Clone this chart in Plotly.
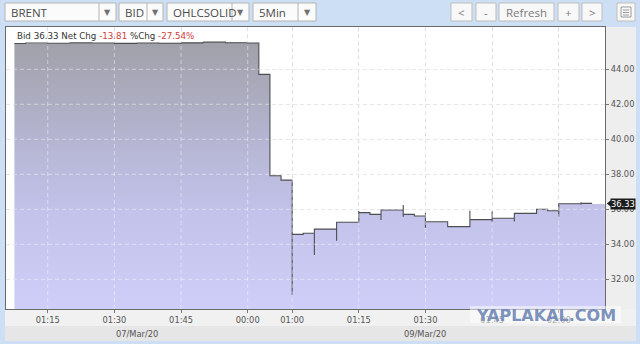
import plotly.graph_objects as go

# ---------------- data ----------------
bar_day = ["07/Mar/20"] * 11 + ["09/Mar/20"] * 15
bar_clock = ["01:10", "01:15", "01:20", "01:25", "01:30", "01:35", "01:40", "01:45", "01:50", "01:55", "00:00",
             "00:55", "01:00", "01:05", "01:10", "01:15", "01:20", "01:25", "01:30", "01:35", "01:40", "01:45",
             "01:50", "01:55", "02:00", "02:05"]
opens = [45.47, 45.50, 45.49, 45.51, 45.50, 45.48, 45.50, 45.49, 45.51, 45.55, 45.52,
         43.71, 37.67, 34.63, 34.87, 35.26, 35.71, 35.96, 35.62, 35.29, 35.01, 35.41,
         35.49, 35.77, 35.92, 36.32]
highs = [45.52, 45.52, 45.53, 45.53, 45.53, 45.52, 45.53, 45.52, 45.57, 45.56, 45.53,
         43.71, 37.67, 34.87, 35.26, 35.90, 35.96, 36.25, 35.79, 35.29, 35.92, 35.87,
         35.77, 36.00, 36.36, 36.40]
lows = [45.45, 45.46, 45.46, 45.48, 45.46, 45.45, 45.47, 45.45, 45.49, 45.50, 45.48,
        37.92, 31.10, 33.39, 34.21, 35.26, 35.39, 35.58, 34.95, 35.01, 35.01, 35.26,
        35.30, 35.77, 35.58, 36.28]
closes = [45.50, 45.49, 45.51, 45.50, 45.48, 45.50, 45.49, 45.51, 45.55, 45.52, 45.50,
          37.92, 34.57, 34.87, 35.26, 35.81, 35.96, 35.71, 35.29, 35.01, 35.41, 35.49,
          35.77, 36.00, 36.32, 36.34]
tick_bars = [("07/Mar/20", "01:15"), ("07/Mar/20", "01:30"), ("07/Mar/20", "01:45"), ("07/Mar/20", "00:00"),
             ("09/Mar/20", "01:00"), ("09/Mar/20", "01:15"), ("09/Mar/20", "01:30"), ("09/Mar/20", "01:45"),
             ("09/Mar/20", "02:00")]
y_ticks = [32, 34, 36, 38, 40, 42, 44]
bid_value = 36.33
net_chg = -13.81
pct_chg = -27.54
symbol, side, style, interval = "BRENT", "BID", "OHLCSOLID", "5Min"
buttons = ["<", "-", "Refresh", "+", ">"]

# ---------------- geometry ----------------
W, H = 640, 344
ML, MR, MT, MB = 6, 35, 27, 35
PW, PH = W - ML - MR, H - MT - MB
X_RANGE = [-0.878, 26.08]
Y_RANGE = [30.303, 46.417]


def px(x):
    return (x - ML) / PW


def py(y):
    return (H - MB - y) / PH


keys = list(zip(bar_day, bar_clock))
tick_vals = [keys.index(k) for k in tick_bars]
tick_text = [k[1] for k in tick_bars]

# step outline of the OHLC-solid style
xs_fill, ys_fill, xs_line, ys_line = [], [], [], []
for i, (o, h, l, c) in enumerate(zip(opens, highs, lows, closes)):
    xs_fill += [i - 0.5, i, i, i + 0.5]
    ys_fill += [o, o, c, c]
    xs_line += [i - 0.5, i, i, i, i, i + 0.5]
    ys_line += [o, o, l, h, c, c]
xs_fill.append(X_RANGE[1])
ys_fill.append(closes[-1] - 0.04)

fig = go.Figure()
fig.add_trace(go.Scatter(
    x=xs_fill, y=ys_fill, mode="lines", line=dict(width=0), fill="tozeroy",
    fillgradient=dict(type="vertical", start=Y_RANGE[0], stop=Y_RANGE[1],
                      colorscale=[[0, "#cecef8"], [0.35, "#c2c2ea"], [0.6, "#b5b5d2"],
                                  [0.85, "#a6a6b4"], [1, "#9e9ea4"]]),
    hoverinfo="skip"))
fig.add_trace(go.Scatter(x=xs_line, y=ys_line, mode="lines",
                         line=dict(color="#4e4e52", width=1.1), hoverinfo="skip"))

shapes = []
# grid overlay (lighter dashes visible over the fill)
for t in tick_vals:
    shapes.append(dict(type="line", xref="x", yref="paper", x0=t, x1=t, y0=0, y1=1, layer="above",
                       line=dict(color="rgba(255,255,255,0.45)", width=1, dash="4px,3px")))
for t in y_ticks:
    shapes.append(dict(type="line", xref="paper", yref="y", x0=0, x1=1, y0=t, y1=t, layer="above",
                       line=dict(color="rgba(255,255,255,0.45)", width=1, dash="4px,3px")))


# panels around the plot
def rect(x0, y0, x1, y1, fill, line=None, layer="below", lw=1):
    shapes.append(dict(type="rect", xref="paper", yref="paper", x0=px(x0), x1=px(x1), y0=py(y1), y1=py(y0),
                       fillcolor=fill, line=dict(color=line or fill, width=lw if line else 0), layer=layer))


rect(605, 27, 636, 309, "#eeeeee")
rect(5, 309, 636, 326, "#f1f1f1")
rect(5, 326, 636, 341, "#e6e6e6")

annotations = []
font_hdr = dict(family="Open Sans", size=11.5, color="#4a4a4a")

# dropdowns
dropdowns = [(symbol, 5, 99, 116), (side, 119, 147, 163), (style, 167, 232, 249), (interval, 253, 298, 316)]
for label, x0, xs, x1 in dropdowns:
    rect(x0, 3, x1, 21, "#fbfbfb", "#b4b4b4", layer="above")
    shapes.append(dict(type="line", xref="paper", yref="paper", x0=px(xs), x1=px(xs), y0=py(21), y1=py(3),
                       line=dict(color="#b4b4b4", width=1)))
    annotations.append(dict(x=px(x0 + 4), y=py(12.5), xref="paper", yref="paper", xanchor="left",
                            yanchor="middle", text=label, showarrow=False, font=font_hdr))
    annotations.append(dict(x=px((xs + x1) / 2), y=py(12.5), xref="paper", yref="paper", xanchor="center",
                            yanchor="middle", text="▼", showarrow=False,
                            font=dict(family="DejaVu Sans", size=8, color="#707070")))

# buttons
btn_pos = [(451, 472), (476, 496), (499, 554), (558, 579), (582, 602)]
for label, (x0, x1) in zip(buttons, btn_pos):
    rect(x0, 3, x1, 21, "#f8f8f8", "#bdbdbd", layer="above")
    annotations.append(dict(x=px((x0 + x1) / 2), y=py(12.5), xref="paper", yref="paper", xanchor="center",
                            yanchor="middle", text=label, showarrow=False,
                            font=dict(family="Open Sans", size=11.5, color="#7a7a7a")))
# table icon
rect(617, 3, 635, 21, "#f8f8f8", "#bdbdbd", layer="above")
rect(621, 7, 631, 17, "rgba(0,0,0,0)", "#9a9a9a", layer="above")
for yy in (10, 12.5, 15):
    shapes.append(dict(type="line", xref="paper", yref="paper", x0=px(623), x1=px(629), y0=py(yy), y1=py(yy),
                       line=dict(color="#9a9a9a", width=1)))

# bid / change header text
red = "#d23c3c"
annotations.append(dict(
    x=px(15), y=py(35.5), xref="paper", yref="paper", xanchor="left", yanchor="middle", showarrow=False,
    text=(f"Bid {bid_value:.2f} Net Chg <span style='color:{red}'>{net_chg:.2f}</span> "
          f"%Chg <span style='color:{red}'>{pct_chg:.2f}%</span>"),
    font=dict(family="DejaVu Sans", size=8.7, color="#333333")))

# date labels under the ticks (centred on each day's bars)
for day in dict.fromkeys(bar_day):
    idx = [i for i, d in enumerate(bar_day) if d == day]
    annotations.append(dict(x=(idx[0] + idx[-1]) / 2, y=py(333.5), xref="x", yref="paper", xanchor="center",
                            yanchor="middle", text=day, showarrow=False,
                            font=dict(family="DejaVu Sans", size=8.3, color="#555555")))

# last price marker on the axis
annotations.append(dict(x=1, y=bid_value, xref="paper", yref="y", xanchor="left", yanchor="middle",
                        xshift=5, text=f"{bid_value:.2f}", showarrow=False, bgcolor="#1c1c1c", borderpad=0,
                        font=dict(family="DejaVu Sans", size=8.3, color="#ffffff")))
dx, dy = 5 / PW, 4 / 17.5
shapes.append(dict(type="path", xref="paper", yref="y", fillcolor="#1c1c1c", line=dict(width=0), layer="above",
                   path=f"M {1 + 0.003},{bid_value} L {1 + 0.003 + dx},{bid_value + dy} "
                        f"L {1 + 0.003 + dx},{bid_value - dy} Z"))

# watermark
rect(470, 306, 621, 323, "rgba(255,255,255,0.5)", layer="above")
annotations.append(dict(x=px(545.5), y=py(315), xref="paper", yref="paper", xanchor="center", yanchor="middle",
                        text="<b>YAPLAKAL.COM</b>", showarrow=False,
                        font=dict(family="DejaVu Sans", size=16, color="rgba(108,132,180,0.9)")))

tickfont = dict(family="DejaVu Sans", size=8.3, color="#555555")
fig.update_layout(
    width=W, height=H, margin=dict(l=ML, r=MR, t=MT, b=MB),
    paper_bgcolor="#cddff5", plot_bgcolor="#ffffff", showlegend=False,
    shapes=shapes, annotations=annotations,
    xaxis=dict(range=X_RANGE, tickvals=tick_vals, ticktext=tick_text, showgrid=True, gridcolor="#dadada",
               griddash="4px,3px", gridwidth=1, ticks="outside", ticklen=3, tickcolor="#777777",
               showline=True, linecolor="#6a6a6a", mirror=True, zeroline=False, tickfont=tickfont,
               fixedrange=True),
    yaxis=dict(range=Y_RANGE, side="right", tickvals=y_ticks, tickformat=".2f", showgrid=True,
               gridcolor="#dadada", griddash="4px,3px", gridwidth=1, ticks="outside", ticklen=3,
               tickcolor="#777777", showline=True, linecolor="#6a6a6a", mirror=True, zeroline=False,
               tickfont=tickfont, fixedrange=True),
)

fig.write_html("out.html", config={"displayModeBar": False})
